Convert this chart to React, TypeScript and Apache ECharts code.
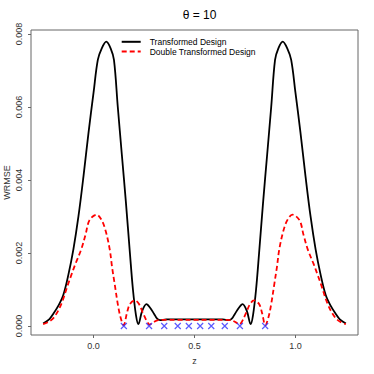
import React, { useEffect, useRef } from "react";
import * as echarts from "echarts";

const titleText = "θ = 10";
const xName = "z";
const yName = "WRMSE";
const seriesNames = ["Transformed Design", "Double Transformed Design"];
const xTicks = [0, 0.5, 1.0];
const yTicks = [0, 0.002, 0.004, 0.006, 0.008];

const transformedZ = [
  -0.25, -0.22, -0.2, -0.175, -0.15, -0.125, -0.1, -0.075, -0.05, -0.025, 0.0, 0.021, 0.04, 0.063, 0.085, 0.101,
  0.12, 0.14, 0.16, 0.18, 0.195, 0.21, 0.222, 0.24, 0.262, 0.28, 0.3, 0.315, 0.33, 0.36, 0.4, 0.45, 0.5,
  0.55, 0.6, 0.64, 0.67, 0.685, 0.7, 0.72, 0.738, 0.76, 0.778, 0.79, 0.805, 0.82, 0.84, 0.86, 0.88,
  0.899, 0.915, 0.937, 0.96, 0.979, 1.0, 1.025, 1.05, 1.075, 1.1, 1.125, 1.15, 1.175, 1.2, 1.22, 1.25,
];
const transformedW = [
  0.00007, 0.00018, 0.00033, 0.00055, 0.00085, 0.0014, 0.0021, 0.003, 0.0041, 0.0053, 0.0064, 0.00729, 0.0076, 0.00779, 0.0076, 0.00729,
  0.006, 0.0047, 0.0034, 0.002, 0.001, 0.0003, 0.00005, 0.0004, 0.0006, 0.0005, 0.00033, 0.0002, 0.00016, 0.00018, 0.00018, 0.00018, 0.00018,
  0.00018, 0.00018, 0.00018, 0.00016, 0.0002, 0.00033, 0.0005, 0.0006, 0.0004, 0.00005, 0.0003, 0.001, 0.002, 0.0034, 0.0047, 0.006,
  0.00729, 0.0076, 0.00779, 0.0076, 0.00729, 0.0064, 0.0053, 0.0041, 0.003, 0.0021, 0.0014, 0.00085, 0.00055, 0.00033, 0.00018, 0.00007,
];

const doubleZ = [
  -0.25, -0.22, -0.194, -0.16, -0.128, -0.11, -0.09, -0.061, -0.04, -0.02, 0.015, 0.04, 0.06, 0.08, 0.092, 0.104,
  0.12, 0.133, 0.149, 0.165, 0.18, 0.205, 0.225, 0.245, 0.265, 0.278, 0.295, 0.32, 0.36, 0.42, 0.5,
  0.58, 0.64, 0.68, 0.705, 0.722, 0.735, 0.755, 0.775, 0.795, 0.82, 0.835, 0.851, 0.867, 0.88, 0.896,
  0.908, 0.92, 0.94, 0.96, 0.985, 1.02, 1.04, 1.061, 1.09, 1.11, 1.128, 1.16, 1.194, 1.22, 1.25,
];
const doubleW = [
  0.00005, 0.00012, 0.00025, 0.0006, 0.00112, 0.0014, 0.0017, 0.0021, 0.0025, 0.0029, 0.00305, 0.0029, 0.0026, 0.0021, 0.0016, 0.00117,
  0.0006, 0.00025, 0.00002, 0.00035, 0.0006, 0.0007, 0.0006, 0.00035, 0.00012, 0.00004, 0.0001, 0.00016, 0.00017, 0.00017, 0.00017,
  0.00017, 0.00017, 0.00016, 0.0001, 0.00004, 0.00012, 0.00035, 0.0006, 0.0007, 0.0006, 0.00035, 0.00002, 0.00025, 0.0006, 0.00117,
  0.0016, 0.0021, 0.0026, 0.0029, 0.00305, 0.0029, 0.0025, 0.0021, 0.0017, 0.0014, 0.00112, 0.0006, 0.00025, 0.00012, 0.00005,
];

const designZ = [0.15, 0.275, 0.35, 0.417, 0.472, 0.528, 0.583, 0.65, 0.725, 0.85];
const designW = [0, 0, 0, 0, 0, 0, 0, 0, 0, 0];

const FONT = "'Liberation Sans', Arial, Helvetica, sans-serif";

export default function App() {
  const ref = useRef<HTMLDivElement>(null);
  useEffect(() => {
    if (!ref.current) return;
    const chart = echarts.init(ref.current, null, { renderer: "svg" });
    const pair = (xs: number[], ys: number[]) => xs.map((x, i) => [x, ys[i]]);
    chart.setOption({
      animation: false,
      backgroundColor: "#ffffff",
      textStyle: { fontFamily: FONT },
      title: {
        text: titleText,
        left: 194.5,
        textAlign: "center",
        top: 4,
        textStyle: { fontSize: 12, fontWeight: "normal", color: "#000", fontFamily: FONT },
      },
      legend: {
        orient: "vertical",
        left: 120.7,
        top: 37.3,
        padding: 0,
        itemWidth: 19,
        itemHeight: 10,
        itemGap: 0.7,
        data: seriesNames,
        itemStyle: { opacity: 0 },
        textStyle: { fontSize: 8.5, color: "#000", fontFamily: FONT, padding: [0, 0, 0, 4] },
      },
      grid: {
        left: 31,
        right: 16,
        top: 30,
        bottom: 39,
        containLabel: false,
        outerBoundsMode: "none",
        show: true,
        borderColor: "#666",
        borderWidth: 1,
        backgroundColor: "transparent",
      },
      xAxis: {
        type: "value",
        min: -0.31,
        max: 1.31,
        name: xName,
        nameLocation: "middle",
        nameGap: 21,
        nameMoveOverlap: false,
        nameTextStyle: { fontSize: 9, color: "#333", fontFamily: FONT },
        axisLine: { show: false, onZero: false },
        splitLine: { show: false },
        axisTick: { show: true, length: 3, customValues: xTicks, lineStyle: { color: "#666" } },
        axisLabel: {
          customValues: xTicks,
          fontSize: 9,
          color: "#333",
          margin: 6,
          formatter: (v: number) => v.toFixed(1),
        },
      },
      yAxis: {
        type: "value",
        min: -0.000247,
        max: 0.00811,
        name: yName,
        nameLocation: "middle",
        nameGap: 20,
        nameMoveOverlap: false,
        nameTextStyle: { fontSize: 9, color: "#333", fontFamily: FONT },
        axisLine: { show: false, onZero: false },
        splitLine: { show: false },
        axisTick: { show: true, length: 3, customValues: yTicks, lineStyle: { color: "#666" } },
        axisLabel: {
          customValues: yTicks,
          fontSize: 9,
          color: "#333",
          rotate: 90,
          margin: 8,
          formatter: (v: number) => v.toFixed(3),
        },
      },
      series: [
        {
          name: seriesNames[0],
          type: "line",
          data: pair(transformedZ, transformedW),
          smooth: 0.35,
          symbol: "none",
          lineStyle: { color: "#000", width: 1.8 },
          itemStyle: { color: "#000" },
          z: 3,
        },
        {
          name: seriesNames[1],
          type: "line",
          data: pair(doubleZ, doubleW),
          smooth: 0.35,
          symbol: "none",
          lineStyle: { color: "#ff0000", width: 1.8, type: [5, 3] },
          itemStyle: { color: "#ff0000" },
          z: 4,
        },
        {
          name: "design",
          type: "scatter",
          data: pair(designZ, designW),
          symbol: "path://M0 0L10 10M10 0L0 10",
          symbolSize: 6,
          itemStyle: { color: "transparent", borderColor: "#3030ff", borderWidth: 1.2 },
          z: 5,
        },
      ],
    });
    return () => chart.dispose();
  }, []);
  return <div ref={ref} style={{ position: "fixed", left: 0, top: 0, width: 374, height: 374 }} />;
}
